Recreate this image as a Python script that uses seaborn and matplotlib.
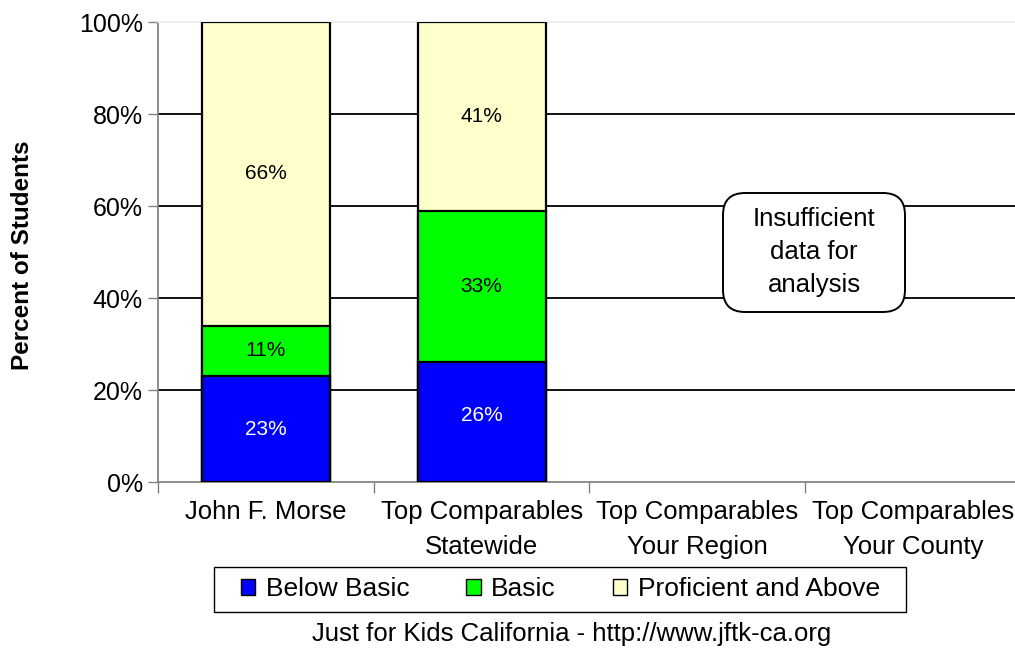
import matplotlib
matplotlib.use("Agg")
import matplotlib.pyplot as plt
import matplotlib.ticker as mt
from matplotlib.patches import FancyBboxPatch, Rectangle
import seaborn as sns

sns.set_theme(style="white")
plt.rcParams["font.family"] = ["Liberation Sans", "DejaVu Sans"]
plt.rcParams["text.color"] = "black"

# data
schools = ["John F. Morse", "Top Comparables\nStatewide",
           "Top Comparables\nYour Region", "Top Comparables\nYour County"]
below_basic = [23, 26]
basic = [11, 33]
proficient = [66, 41]
levels = ["Below Basic", "Basic", "Proficient and Above"]
colors = ["#0000FF", "#00FF00", "#FFFFCC"]

fig = plt.figure(figsize=(10.15, 6.49), dpi=100)
ax = fig.add_axes([0.1557, 0.2573, 0.850, 0.7088])

# cumulative heights so each layer is drawn over the one above it
cum_basic = [b + m for b, m in zip(below_basic, basic)]
cum_top = [c + p for c, p in zip(cum_basic, proficient)]
with_data = schools[:len(below_basic)]

for vals, col in [(cum_top, colors[2]), (cum_basic, colors[1]), (below_basic, colors[0])]:
    sns.barplot(x=with_data, y=vals, order=schools, color=col, width=0.594,
                edgecolor="black", linewidth=1.6, saturation=1, ax=ax, zorder=3)

# segment labels
for i in range(len(below_basic)):
    segs = [(0, below_basic[i], "white"),
            (below_basic[i], basic[i], "black"),
            (cum_basic[i], proficient[i], "black")]
    for j, (base, h, tc) in enumerate(segs):
        y = base + h / 2
        if j == 0 and i == 1:
            y += 1.5
        ax.text(i, y, f"{h}%", ha="center", va="center", fontsize=15, color=tc,
                family=["Liberation Sans Narrow", "Liberation Sans"], zorder=4)

ax.set_xlim(-0.5, 3.5)
ax.set_ylim(0, 100)
ax.set_yticks(range(0, 101, 20))
ax.yaxis.set_major_formatter(mt.FuncFormatter(lambda v, p: f"{int(v)}%"))
ax.tick_params(axis="y", which="major", left=True, length=7, width=1, color="#808080",
               labelsize=18, pad=4, labelcolor="black")
ax.set_xticks(range(len(schools)))
ax.set_xticklabels(schools, linespacing=1.55)
ax.tick_params(axis="x", which="major", bottom=False, length=0, labelsize=18.5, pad=13,
               labelcolor="black")
ax.set_xticks([-0.5, 0.5, 1.5, 2.5, 3.5], minor=True)
ax.tick_params(axis="x", which="minor", bottom=True, length=8, width=1, color="#808080")

for y in [20, 40, 60, 80]:
    ax.axhline(y, color="black", linewidth=1.3, zorder=1)
ax.spines["top"].set_color("#eeeeee")
ax.spines["left"].set_color("#808080")
ax.spines["bottom"].set_color("#808080")
ax.spines["right"].set_visible(False)
ax.set_xlabel("")
ax.set_ylabel("")

# "Insufficient data" note, box drawn in pixel units
fig.patches.append(FancyBboxPatch((723, 337), 182, 119,
                                  boxstyle="round,pad=0,rounding_size=22",
                                  fc="white", ec="black", lw=1.4, transform=None,
                                  figure=fig, zorder=5))
fig.text(814 / 1015, 1 - 252 / 649, "Insufficient\ndata for\nanalysis", ha="center",
         va="center", fontsize=18.5, linespacing=1.45, zorder=6)

fig.text(0.022, 0.607, "Percent of Students", rotation=90, ha="center", va="center",
         fontsize=17.5, fontweight="bold")

# legend: entries without frame, frame drawn separately (wider side padding)
handles = [plt.Rectangle((0, 0), 1, 1, fc=c, ec="black", lw=1) for c in colors]
fig.legend(handles, levels, loc="center", bbox_to_anchor=(0.552, 0.0917), ncol=3,
           fontsize=19, frameon=False, handlelength=0.55, handleheight=0.55,
           handletextpad=0.4, columnspacing=2.15, borderpad=0.45, borderaxespad=0)
fig.patches.append(Rectangle((214, 37), 692, 45, fc="none", ec="black", lw=1,
                             transform=None, figure=fig))

fig.text(0.563, 0.023, "Just for Kids California - http://www.jftk-ca.org",
         ha="center", va="center", fontsize=18.5)

fig.savefig("out.png", dpi=100)
